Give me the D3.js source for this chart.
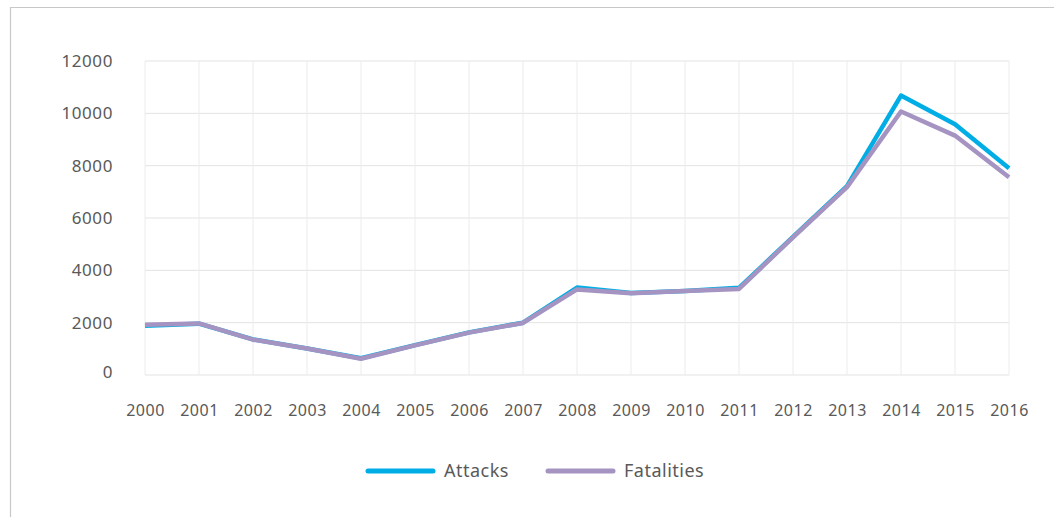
<!DOCTYPE html>
<html><head><meta charset="utf-8">
<script src="https://cdn.jsdelivr.net/npm/d3@7"></script>
<style>
html,body{margin:0;padding:0;background:#fff;}
svg{display:block;}
text{font-family:"Noto Sans",Lato,sans-serif;fill:#595959;}
</style></head>
<body>
<svg id="chart" width="1054" height="517"></svg>
<script>
const years = [2000,2001,2002,2003,2004,2005,2006,2007,2008,2009,2010,2011,2012,2013,2014,2015,2016];
const attacks =    [1880,1960,1360,1010,640,1140,1630,2000,3340,3130,3210,3330,5280,7220,10680,9580,7900];
const fatalities = [1920,1970,1350,1010,620,1130,1620,1990,3270,3120,3210,3290,5260,7180,10070,9150,7560];
const yTicks = [0,2000,4000,6000,8000,10000,12000];
const seriesNames = ["Attacks","Fatalities"];
const seriesColors = ["#00AEE5","#A594C2"];

const svg = d3.select("#chart");
// frame
svg.append("line").attr("x1",10).attr("x2",1054).attr("y1",7.5).attr("y2",7.5).attr("stroke","#c8c8c8").attr("stroke-width",1.2);
svg.append("line").attr("x1",10.5).attr("x2",10.5).attr("y1",7).attr("y2",517).attr("stroke","#c8c8c8").attr("stroke-width",1.2);

const x = d3.scalePoint().domain(years).range([145,1009]);
const y = d3.scaleLinear().domain([0,12000]).range([375,61]);

const g = svg.append("g");
g.selectAll("line.h").data(yTicks).enter().append("line")
 .attr("x1",145).attr("x2",1009).attr("y1",d=>y(d)).attr("y2",d=>y(d))
 .attr("stroke","#e3e3e3").attr("stroke-width",1);
g.selectAll("line.v").data(years).enter().append("line")
 .attr("x1",d=>x(d)).attr("x2",d=>x(d)).attr("y1",61).attr("y2",375)
 .attr("stroke","#ececec").attr("stroke-width",1);

// y labels
const yAxis = d3.axisLeft(y).tickValues(yTicks).tickFormat(d3.format("d")).tickSize(0).tickPadding(0);
const ya = svg.append("g").attr("transform","translate(113,0)").call(yAxis);
ya.select(".domain").remove();
ya.selectAll("text").attr("font-size","17px").attr("fill","#595959").attr("dy","0.32em")
  .style("font-family",'"Noto Sans",Lato,sans-serif').style("letter-spacing","0.6px");
ya.selectAll("text").filter(d=>d===0).attr("dy","0.15em");

// x labels
const xAxis = d3.axisBottom(x).tickFormat(d3.format("d")).tickSize(0).tickPadding(0);
const xa = svg.append("g").attr("transform","translate(0,405)").call(xAxis);
xa.select(".domain").remove();
xa.selectAll("text").attr("font-size","16px").attr("fill","#595959").attr("dy","0.32em").attr("y",6)
  .style("font-family",'"Noto Sans",Lato,sans-serif').style("letter-spacing","0.5px");

// lines
const data = [attacks, fatalities];
const line = d3.line().x((d,i)=>x(years[i])).y(d=>y(d));
data.forEach((vals,k)=>{
  svg.append("path").datum(vals).attr("d",line).attr("fill","none")
   .attr("stroke",seriesColors[k]).attr("stroke-width",4.5).attr("stroke-linejoin","round");
});

// legend
const legX = [368,548];
seriesNames.forEach((name,k)=>{
  svg.append("line").attr("x1",legX[k]).attr("x2",legX[k]+65).attr("y1",471).attr("y2",471)
    .attr("stroke",seriesColors[k]).attr("stroke-width",5).attr("stroke-linecap","round");
  svg.append("text").attr("x",legX[k]+76).attr("y",471).attr("dy","0.35em")
    .attr("font-size","18px").style("letter-spacing","0.5px").text(name);
});
</script>
</body></html>
